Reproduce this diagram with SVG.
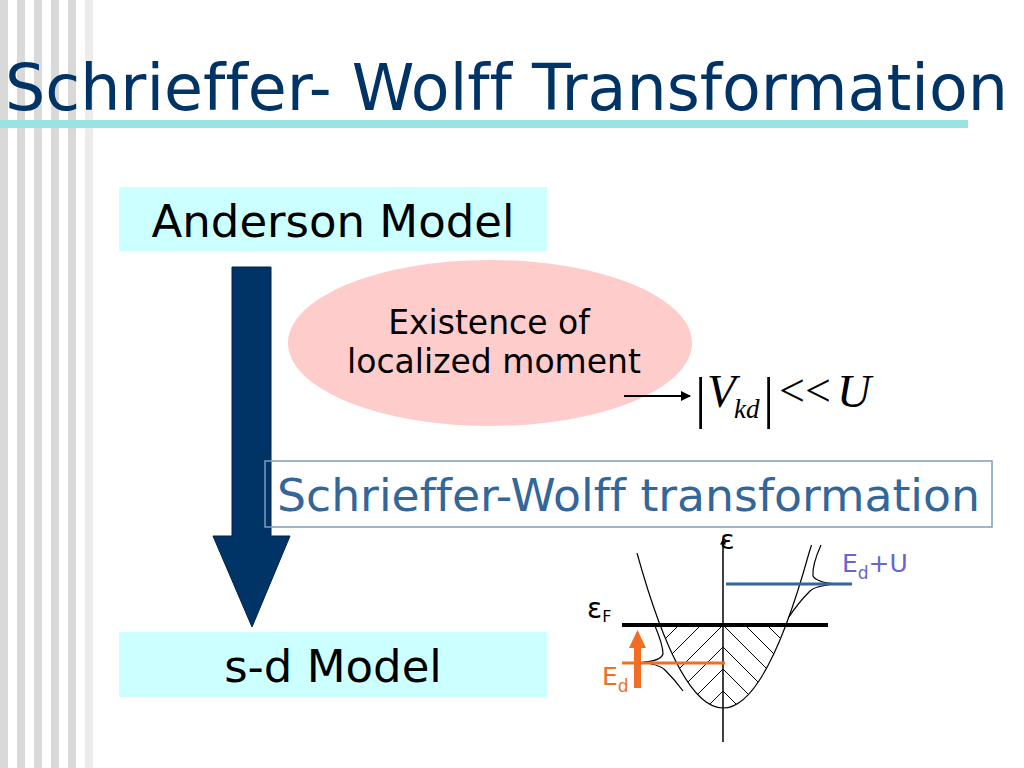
<svg xmlns="http://www.w3.org/2000/svg" width="1024" height="768" viewBox="0 0 1024 768">
  <style>
    .sans { font-family: "DejaVu Sans", Verdana, "Liberation Sans", sans-serif; font-variant-ligatures: none; }
    .serif { font-family: "Liberation Serif", "Times New Roman", serif; }
    .box { fill: #CCFFFF; }
    .stripe { fill: #D9D9D9; }
    .hatch { stroke: #000; stroke-width: 1; fill: none; }
    .thin { stroke: #000; stroke-width: 1.2; fill: none; }
  </style>
  <defs>
    <marker id="arrowSmall" viewBox="0 0 10 10" refX="9" refY="5" markerWidth="7" markerHeight="5" orient="auto" markerUnits="strokeWidth">
      <path d="M0,0 L10,5 L0,10 Z" fill="#000"/>
    </marker>
    <marker id="axisHead" viewBox="0 0 10 10" refX="9" refY="5" markerWidth="8" markerHeight="6" orient="auto" markerUnits="userSpaceOnUse">
      <path d="M0,0 L10,5 L0,10 Z" fill="#000"/>
    </marker>
    <clipPath id="leftFill">
      <path d="M660.1,625 Q691.6,708 723,708 L723,625 Z"/>
    </clipPath>
    <clipPath id="rightFill">
      <path d="M723,625 L723,708 Q754.4,708 785.9,625 Z"/>
    </clipPath>
  </defs>

  <rect x="0" y="0" width="1024" height="768" fill="#FFFFFF"/>

  <g id="background">
    <rect class="stripe" x="0" y="0" width="8" height="768"/>
    <rect class="stripe" x="17" y="0" width="8" height="768"/>
    <rect class="stripe" x="34" y="0" width="8" height="768"/>
    <rect class="stripe" x="51" y="0" width="8" height="768"/>
    <rect class="stripe" x="68" y="0" width="8" height="768"/>
    <rect x="85" y="0" width="8" height="768" fill="#ECECEC"/>
    <rect x="0" y="120" width="968" height="8" fill="#99E3E3"/>
  </g>

  <g id="title">
    <text class="sans" x="5" y="110" font-size="64" fill="#003366" textLength="1003" lengthAdjust="spacingAndGlyphs">Schrieffer- Wolff Transformation</text>
  </g>

  <g id="anderson-model">
    <rect class="box" x="119" y="187" width="428" height="64"/>
    <text class="sans" x="333" y="237" font-size="45" fill="#000" text-anchor="middle">Anderson Model</text>
  </g>

  <g id="localized-moment">
    <ellipse cx="490" cy="343" rx="202" ry="83" fill="#FFCCCC"/>
    <text class="sans" x="489" y="334" font-size="33" fill="#000" text-anchor="middle">Existence of</text>
    <text class="sans" x="494" y="373" font-size="33" fill="#000" text-anchor="middle">localized moment</text>
  </g>

  <g id="connectors">
    <path id="main-arrow" d="M232,267 L271,267 L271,536 L290,536 L252,627 L213,536 L232,536 Z" fill="#003366" stroke="#002244" stroke-width="1"/>
    <line id="moment-arrow" x1="624" y1="396" x2="690" y2="396" stroke="#000" stroke-width="2" marker-end="url(#arrowSmall)"/>
  </g>

  <g id="condition">
    <text class="serif" x="695" y="417" font-size="56" fill="#000">|</text>
    <text class="serif" x="707" y="407" font-size="47" font-style="italic" fill="#000">V</text>
    <text class="serif" x="734" y="418" font-size="27" font-style="italic" fill="#000">kd</text>
    <text class="serif" x="763" y="417" font-size="56" fill="#000">|</text>
    <text class="serif" x="779" y="406" font-size="46" fill="#000">&lt;&lt;</text>
    <text class="serif" x="837" y="407" font-size="47" font-style="italic" fill="#000">U</text>
  </g>

  <g id="sw-transformation">
    <rect x="265" y="461" width="727" height="66" fill="none" stroke="#7F9CBD" stroke-width="1.5"/>
    <text class="sans" x="277" y="511" font-size="45" fill="#336699" textLength="703" lengthAdjust="spacingAndGlyphs">Schrieffer-Wolff transformation</text>
  </g>

  <g id="sd-model">
    <rect class="box" x="119" y="632" width="428" height="65"/>
    <text class="sans" x="333" y="682" font-size="45" fill="#000" text-anchor="middle">s-d Model</text>
  </g>

  <g id="band-diagram">
    <g clip-path="url(#leftFill)">
      <line class="hatch" x1="620" y1="728" x2="743" y2="605"/>
      <line class="hatch" x1="598" y1="728" x2="721" y2="605"/>
      <line class="hatch" x1="576" y1="728" x2="699" y2="605"/>
      <line class="hatch" x1="642" y1="728" x2="765" y2="605"/>
      <line class="hatch" x1="664" y1="728" x2="787" y2="605"/>
      <line class="hatch" x1="686" y1="728" x2="809" y2="605"/>
    </g>
    <g clip-path="url(#rightFill)">
      <line class="hatch" x1="703" y1="605" x2="826" y2="728"/>
      <line class="hatch" x1="725" y1="605" x2="848" y2="728"/>
      <line class="hatch" x1="747" y1="605" x2="870" y2="728"/>
      <line class="hatch" x1="681" y1="605" x2="804" y2="728"/>
      <line class="hatch" x1="659" y1="605" x2="782" y2="728"/>
      <line class="hatch" x1="637" y1="605" x2="760" y2="728"/>
    </g>
    <path class="thin" d="M637,553 Q723,863 809,553 L811.5,545"/>
    <path class="thin" d="M655,626 Q663,645 663,654 Q661,661 641,662.5 Q659,664 665,670 Q675,680 683,691"/>
    <path class="thin" d="M821,545 Q812,565 813,576 Q816,582 835,584 Q815,586 810,591 Q798,603 789,617"/>
    <line x1="723" y1="742" x2="723" y2="539" stroke="#000" stroke-width="1.5" marker-end="url(#axisHead)"/>
    <line x1="622" y1="625" x2="828" y2="625" stroke="#000" stroke-width="4"/>
    <line x1="726" y1="584" x2="852" y2="584" stroke="#336699" stroke-width="3"/>
    <line x1="622" y1="663" x2="725" y2="663" stroke="#F26D21" stroke-width="3"/>
    <path d="M634,688 L641,688 L641,648 L646,648 L637.5,630 L629,648 L634,648 Z" fill="#F26D21"/>
    <text class="sans" x="720" y="549" font-size="27" fill="#000">ε</text>
    <text class="sans" x="587" y="618" font-size="28" fill="#000">ε<tspan font-size="16" dy="4">F</tspan></text>
    <text class="sans" x="602" y="685" font-size="25" fill="#F26D21">E<tspan font-size="17" dy="7">d</tspan></text>
    <text class="sans" x="842" y="572" font-size="25" fill="#6666CC">E<tspan font-size="17" dy="7">d</tspan><tspan dy="-7">+U</tspan></text>
  </g>
</svg>
